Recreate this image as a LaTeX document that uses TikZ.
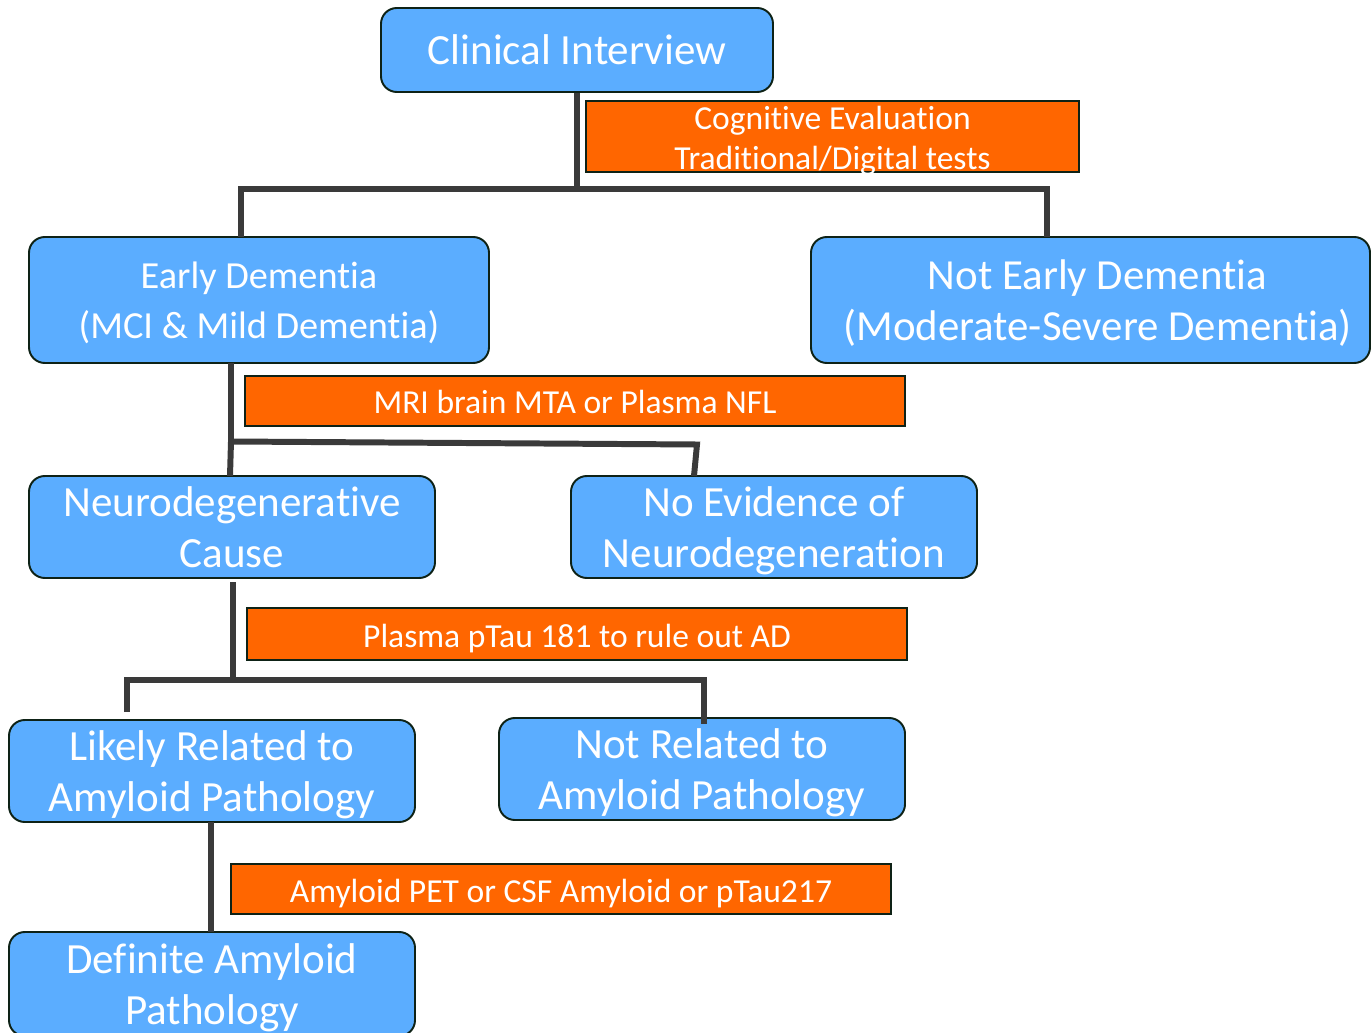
\documentclass[tikz,border=0pt]{standalone}
\usepackage{fontspec}
\setmainfont{Carlito}[Ligatures=NoCommon]
\definecolor{bluebox}{RGB}{91,173,255}
\definecolor{orangebox}{RGB}{255,102,0}
\definecolor{edgecol}{RGB}{14,34,22}
\definecolor{conncol}{RGB}{58,58,58}
\tikzset{
  bbox/.style={draw=edgecol, line width=1.1pt, fill=bluebox, rounded corners=9pt, inner sep=0pt},
  obox/.style={draw=edgecol, line width=1.1pt, fill=orangebox, inner sep=0pt},
  sz/.style 2 args={minimum width={#1*0.02cm}, minimum height={#2*0.02cm}},
  conn/.style={draw=conncol, line width=3.4pt},
  T/.style n args={4}{label={[text=white, align=center, inner sep=0pt, font=#1, xshift=#2, yshift=#3]center:{#4}}},
}
\newcommand\fbig{\fontsize{24.5}{29}\selectfont}
\newcommand\fmid{\fontsize{24.4}{29.5}\selectfont}
\newcommand\fsmall{\fontsize{21.8}{28.5}\selectfont}
\newcommand\fol{\fontsize{19.1}{22.8}\selectfont}
\begin{document}
\begin{tikzpicture}[x=0.02cm,y=-0.02cm]
\useasboundingbox (0,0) rectangle (1372,1033);
% junction coordinates
\coordinate (j1) at (577,189);
\coordinate (a1) at (241,237);
\coordinate (a2) at (1047,237);
\coordinate (d0) at (231,363);
\coordinate (j2) at (231,441.5);
\coordinate (k2) at (697,444.5);
\coordinate (b1) at (230,476);
\coordinate (b2) at (694,476);
\coordinate (e0) at (233,582);
\coordinate (j3) at (233,680);
\coordinate (c1) at (127,712);
\coordinate (c2) at (704,724);
\coordinate (f1) at (211,822);
\coordinate (f2) at (211,932);
% boxes
\node[bbox, sz={392}{84}, T={\fbig}{0pt}{0pt}{Clinical Interview}] (ci) at (577,50) {};
\node[obox, sz={493}{71}, T={\fol}{0pt}{-2.3pt}{Cognitive Evaluation\\Traditional/Digital tests}] (cog) at (832.5,136.5) {};
\node[bbox, sz={460}{126}, T={\fsmall}{0pt}{-1.8pt}{Early Dementia\\(MCI \& Mild Dementia)}] (ed) at (259,300) {};
\node[bbox, sz={559}{126}, T={\fmid}{4pt}{-1.8pt}{Not Early Dementia\\(Moderate-Severe Dementia)}] (ned) at (1090.5,300) {};
\node[obox, sz={660}{50}, T={\fol}{0pt}{-0.6pt}{MRI brain MTA or Plasma NFL}] (mri) at (575,401) {};
\node[bbox, sz={406}{102}, T={\fbig}{0pt}{0pt}{Neurodegenerative\\Cause}] (neu) at (232,527) {};
\node[bbox, sz={406}{102}, T={\fbig}{0pt}{-1.9pt}{No Evidence of\\Neurodegeneration}] (noe) at (774,527) {};
\node[obox, sz={660}{52}, T={\fol}{0pt}{-2.5pt}{Plasma pTau 181 to rule out AD}] (pt) at (577,634) {};
\node[bbox, sz={406}{102}, T={\fbig}{0pt}{-1.9pt}{Likely Related to\\Amyloid Pathology}] (lik) at (212,771) {};
\node[bbox, sz={406}{102}, T={\fbig}{0pt}{-2.3pt}{Not Related to\\Amyloid Pathology}] (nrel) at (702,769) {};
\node[obox, sz={660}{50}, T={\fol}{0pt}{-2.5pt}{Amyloid PET or CSF Amyloid or pTau217}] (pet) at (561,889) {};
\node[bbox, sz={406}{104}, T={\fbig}{0pt}{-1.9pt}{Definite Amyloid\\Pathology}] (def) at (212,984) {};
% connectors
\draw[conn] (ci.south) -- (j1);
\draw[conn] (a1) |- (j1) -| (a2);
\draw[conn] (d0) -- (j2) -- (b1);
\draw[conn] (j2) -- (k2) -- (b2);
\draw[conn] (e0) -- (j3);
\draw[conn] (c1) |- (j3) -| (c2);
\draw[conn] (f1) -- (f2);
\end{tikzpicture}
\end{document}
